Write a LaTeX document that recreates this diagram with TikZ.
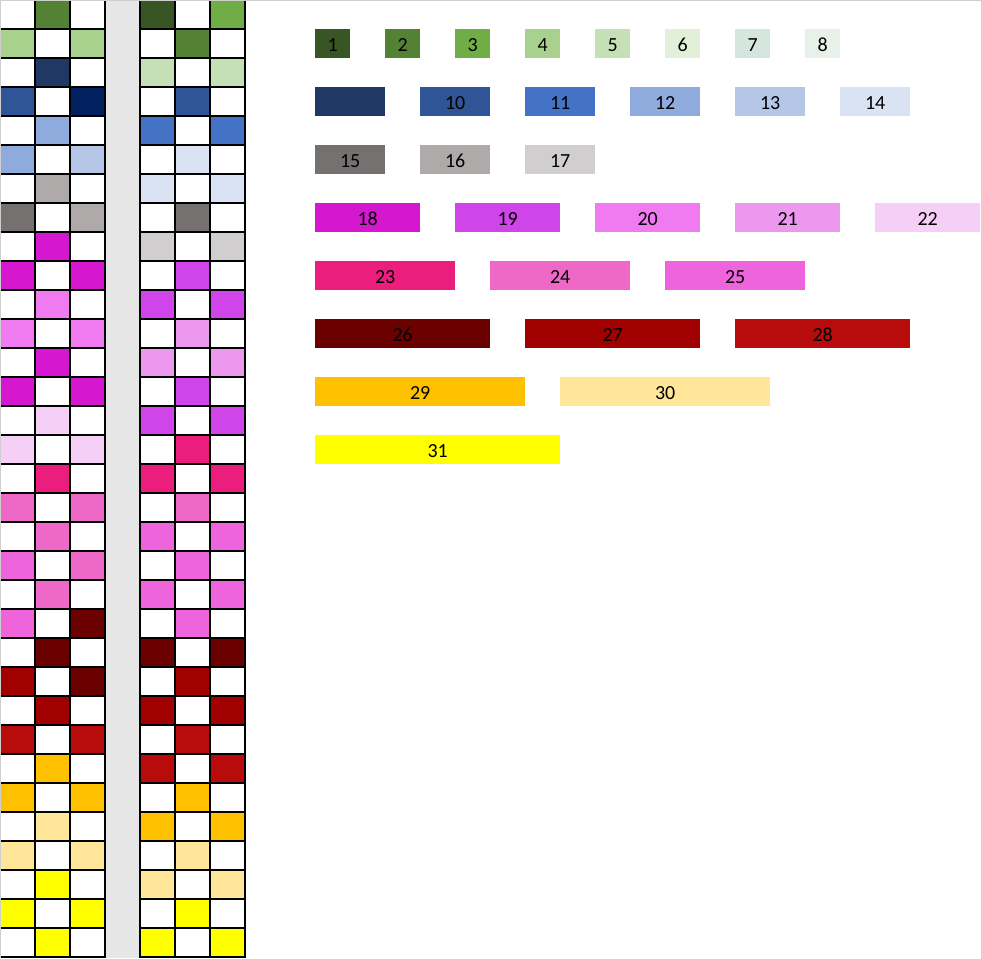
\documentclass[tikz,border=0pt]{standalone}
\usepackage{fontspec}
\setmainfont{Carlito}
\usepackage{xcolor}
% palette
\definecolor{c1}{HTML}{375623}
\definecolor{c2}{HTML}{548235}
\definecolor{c3}{HTML}{70AD47}
\definecolor{c4}{HTML}{A9D18E}
\definecolor{c5}{HTML}{C5E0B4}
\definecolor{c6}{HTML}{E2F0D9}
\definecolor{c7}{HTML}{D4E6DD}
\definecolor{c8}{HTML}{E8F0EA}
\definecolor{c9}{HTML}{1F3864}
\definecolor{c10}{HTML}{2F5597}
\definecolor{c11}{HTML}{4472C4}
\definecolor{c12}{HTML}{8FAADC}
\definecolor{c13}{HTML}{B4C7E7}
\definecolor{c14}{HTML}{DAE3F3}
\definecolor{c15}{HTML}{767171}
\definecolor{c16}{HTML}{AEAAAA}
\definecolor{c17}{HTML}{D0CECE}
\definecolor{c18}{HTML}{D517D0}
\definecolor{c19}{HTML}{CF45EA}
\definecolor{c20}{HTML}{F07AF0}
\definecolor{c21}{HTML}{EC98EE}
\definecolor{c22}{HTML}{F6CFF6}
\definecolor{c23}{HTML}{EC1E7D}
\definecolor{c24}{HTML}{EE68C8}
\definecolor{c25}{HTML}{EE64DC}
\definecolor{c26}{HTML}{6B0000}
\definecolor{c27}{HTML}{A00000}
\definecolor{c28}{HTML}{B80C0C}
\definecolor{c29}{HTML}{FFC000}
\definecolor{c30}{HTML}{FFE699}
\definecolor{c31}{HTML}{FFFF00}
\definecolor{cnavy}{HTML}{002060}
\definecolor{band}{HTML}{E6E6E6}
\definecolor{edge}{HTML}{CFCFCF}
\colorlet{W}{white}

\begin{document}
\begin{tikzpicture}[x=1pt,y=-1pt,
  cell/.style={draw=black,line width=1.4pt},
  swatch/.style={anchor=north west,inner sep=0pt,minimum width=#1*35pt,minimum height=29pt,
    text height=16.4pt,text depth=0pt,font=\fontsize{20}{24}\selectfont}]
\useasboundingbox (0,0) rectangle (981,958);
\fill[band] (105,0) rectangle (140,958);
% two pattern columns, row by row
\foreach \r/\la/\lb/\lc/\ra/\rb/\rc in {
  0/W/c2/W/c1/W/c3, 1/c4/W/c4/W/c2/W, 2/W/c9/W/c5/W/c5, 3/c10/W/cnavy/W/c10/W,
  4/W/c12/W/c11/W/c11, 5/c12/W/c13/W/c14/W, 6/W/c16/W/c14/W/c14, 7/c15/W/c16/W/c15/W,
  8/W/c18/W/c17/W/c17, 9/c18/W/c18/W/c19/W, 10/W/c20/W/c19/W/c19, 11/c20/W/c20/W/c21/W,
  12/W/c18/W/c21/W/c21, 13/c18/W/c18/W/c19/W, 14/W/c22/W/c19/W/c19, 15/c22/W/c22/W/c23/W,
  16/W/c23/W/c23/W/c23, 17/c24/W/c24/W/c24/W, 18/W/c24/W/c25/W/c25, 19/c25/W/c24/W/c25/W,
  20/W/c24/W/c25/W/c25, 21/c25/W/c26/W/c25/W, 22/W/c26/W/c26/W/c26, 23/c27/W/c26/W/c27/W,
  24/W/c27/W/c27/W/c27, 25/c28/W/c28/W/c28/W, 26/W/c29/W/c28/W/c28, 27/c29/W/c29/W/c29/W,
  28/W/c30/W/c29/W/c29, 29/c30/W/c30/W/c30/W, 30/W/c31/W/c30/W/c30, 31/c31/W/c31/W/c31/W,
  32/W/c31/W/c31/W/c31}{
  \foreach \col/\x in {\la/0,\lb/35,\lc/70,\ra/140,\rb/175,\rc/210}
    \draw[cell,fill=\col] (\x,29*\r) rectangle ++(35,29);
}
\draw[edge,line width=1.5pt] (0,0.5) -- (981,0.5) (0.5,0) -- (0.5,958);
% numbered swatches: number/label/width/x/top
\foreach \n/\lbl/\w/\x/\y in {
  1/1/1/315/29, 2/2/1/385/29, 3/3/1/455/29, 4/4/1/525/29,
  5/5/1/595/29, 6/6/1/665/29, 7/7/1/735/29, 8/8/1/805/29,
  9/{}/2/315/87, 10/10/2/420/87, 11/11/2/525/87, 12/12/2/630/87, 13/13/2/735/87, 14/14/2/840/87,
  15/15/2/315/145, 16/16/2/420/145, 17/17/2/525/145,
  18/18/3/315/203, 19/19/3/455/203, 20/20/3/595/203, 21/21/3/735/203, 22/22/3/875/203,
  23/23/4/315/261, 24/24/4/490/261, 25/25/4/665/261,
  26/26/5/315/319, 27/27/5/525/319, 28/28/5/735/319,
  29/29/6/315/377, 30/30/6/560/377,
  31/31/7/315/435}
  \node[swatch=\w,fill=c\n] (sw\n) at (\x,\y) {\lbl};
\end{tikzpicture}
\end{document}
